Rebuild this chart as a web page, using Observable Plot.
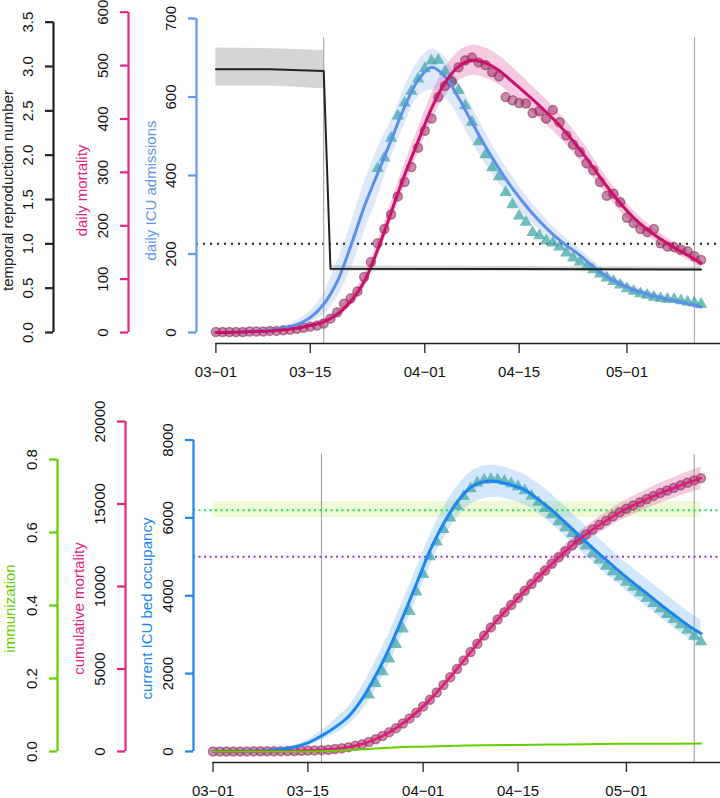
<!DOCTYPE html>
<html><head><meta charset="utf-8">
<script src="https://cdn.jsdelivr.net/npm/d3@7"></script>
<script src="https://cdn.jsdelivr.net/npm/@observablehq/plot@0.6"></script>
<style>
html,body{margin:0;padding:0;background:#fff;}
#chart{width:720px;}
#chart svg{display:block;}
</style></head><body><div id="chart"></div>
<script>
// ---------- data (days since 03-01) ----------
const fitDays = [0,4,8,10,12,14,16,18,20,22,24,26,28,30,32,34,36,38,40,42,44,46,48,50,52,54,56,58,60,62,64,66,68,70,72];

// top panel: daily ICU admissions (model fit + band)
const icuAdmFit = [0,2,6,11,20,38,72,130,220,320,405,490,575,643,676,652,598,535,474,418,367,323,284,250,222,197,168,143,124,109,98,89,81,73,65];
const icuAdmLo  = [0,1,4,7,13,25,45,90,160,255,345,445,530,600,618,598,550,485,430,380,335,295,261,230,205,182,155,132,115,101,91,82,75,67,58];
const icuAdmHi  = [0,3,9,16,30,55,100,180,275,380,470,540,625,690,722,700,640,575,510,450,398,350,308,270,240,212,182,155,134,118,106,97,88,80,73];
// observed daily ICU admissions
const icuAdmObsDays = [24,25,26,27,28,29,30,31,32,33,34,35,36,37,38,39,40,41,42,43,44,45,46,47,48,49,50,51,52,53,54,55,56,57,58,59,60,61,62,63,64,65,66,67,68,69,70,71,72];
const icuAdmObs = [418,445,495,552,585,615,646,672,692,694,665,642,617,578,536,486,453,420,397,357,326,297,281,255,247,234,228,218,203,190,180,168,160,149,139,130,121,112,105,99,95,90,87,85,85,81,78,76,72];

// daily mortality (model fit + band)
const mortFit = [0,1,3,5,8,13,20,34,58,95,155,225,295,358,420,468,498,510,505,491,470,448,425,401,374,343,309,274,242,215,193,175,159,145,130];
const mortLo  = [0,0,2,4,6,10,16,28,49,83,140,207,274,335,395,442,471,482,477,464,444,423,401,378,352,322,290,257,227,202,181,164,149,136,121];
const mortHi  = [0,2,4,7,10,16,25,41,68,108,170,243,316,382,446,495,526,538,533,519,497,473,449,424,396,364,328,291,257,228,205,186,169,154,139];
// observed daily mortality, days 0..72
const mortObs = [1,1,1,1,1,2,2,2,3,3,4,5,7,9,11,13,17,26,38,54,64,77,104,132,167,194,221,255,282,310,346,378,401,441,462,470,497,510,515,506,501,488,480,441,435,430,429,411,415,401,417,394,369,352,338,317,304,282,256,260,244,215,205,194,188,194,167,161,160,155,152,143,136];

// temporal reproduction number
const rDays = [0,8,16,17,72];
const rVals = [2.97,2.97,2.95,0.72,0.71];
const rLo   = [2.78,2.78,2.75,0.69,0.69];
const rHi   = [3.21,3.20,3.18,0.75,0.74];
const rThreshold = 1;

// bottom panel: current ICU bed occupancy
const icuOccFit = [0,5,20,55,115,220,400,620,900,1350,1950,2650,3450,4300,5150,5850,6400,6780,6930,6930,6840,6720,6470,6200,5880,5550,5230,4920,4620,4330,4060,3780,3510,3250,3030];
const icuOccLo  = [0,3,12,30,70,140,280,460,690,1050,1600,2250,3050,3900,4750,5450,6000,6350,6500,6520,6450,6330,6120,5840,5520,5190,4880,4560,4280,3990,3720,3450,3180,2920,2700];
const icuOccHi  = [0,8,30,80,160,300,540,820,1150,1680,2330,3050,3860,4700,5550,6250,6800,7170,7330,7340,7250,7110,6880,6600,6280,5950,5630,5300,4980,4700,4430,4150,3880,3600,3380];
const icuOccObsDays = [23,24,25,26,27,28,29,30,31,32,33,34,35,36,37,38,39,40,41,42,43,44,45,46,47,48,49,50,51,52,53,54,55,56,57,58,59,60,61,62,63,64,65,66,67,68,69,70,71,72];
const icuOccObs = [1450,1750,2050,2380,2750,3150,3600,4100,4550,5000,5380,5700,6000,6300,6550,6750,6900,6970,6990,6980,6940,6880,6800,6700,6560,6400,6240,6080,5900,5750,5600,5450,5280,5080,4920,4760,4620,4480,4350,4220,4080,3940,3800,3660,3520,3400,3260,3120,2960,2820];
const icuCapacity = 5000;

// cumulative mortality
const cumFit = [0,5,14,21,33,53,83,150,265,450,745,1160,1700,2350,3130,4030,5000,6020,7030,8000,8880,9740,10560,11380,12140,12830,13450,13990,14500,14920,15300,15660,15980,16290,16570];
const cumLo  = [0,4,12,18,28,45,71,130,235,405,685,1080,1600,2230,2990,3870,4820,5810,6800,7740,8590,9420,10210,11000,11730,12390,12980,13490,13970,14370,14720,15050,15350,15640,15900];
const cumHi  = [0,6,16,24,38,61,95,170,295,495,805,1240,1800,2470,3270,4190,5180,6230,7260,8260,9170,10060,10910,11760,12550,13270,13920,14490,15030,15470,15880,16270,16610,16940,17240];
const cumObs = [1,2,3,4,5,7,9,11,14,17,21,26,33,42,53,66,83,109,147,201,265,342,446,578,745,939,1160,1415,1697,2007,2353,2731,3132,3573,4035,4505,5002,5512,6027,6533,7034,7522,8002,8443,8878,9308,9737,10148,10563,10964,11381,11775,12144,12496,12834,13151,13455,13737,13993,14253,14497,14712,14917,15111,15299,15493,15660,15821,15981,16136,16288,16431,16567];

// immunization
const immDays = [0,14,16,18,20,22,24,26,28,30,32,36,40,45,50,55,60,65,72];
const immVals = [0,0,0.001,0.002,0.004,0.006,0.008,0.010,0.012,0.013,0.014,0.016,0.017,0.018,0.019,0.020,0.021,0.021,0.022];
const herdThreshold = 0.661, herdLo = 0.641, herdHi = 0.685;
const herdDays = [0,72];

// events (vertical lines)
const eventDays = [16,71];

// axis ticks & labels
const xTickDays = [0,14,31,45,61];
const xTickLabels = ["03\u221201","03\u221215","04\u221201","04\u221215","05\u221201"];
const rTicks = [0,0.5,1,1.5,2,2.5,3,3.5];
const rTickLabels = ["0.0","0.5","1.0","1.5","2.0","2.5","3.0","3.5"];
const mortTicks = [0,100,200,300,400,500,600];
const mortTickLabels = ["0","100","200","300","400","500","600"];
const icuAdmTicks = [0,200,400,600,800];
const icuAdmTickLabels = ["0","200","400","600","700"];
const immTicks = [0,0.2,0.4,0.6,0.8];
const immTickLabels = ["0.0","0.2","0.4","0.6","0.8"];
const cumTicks = [0,5000,10000,15000,20000];
const cumTickLabels = ["0","5000","10000","15000","20000"];
const icuOccTicks = [0,2000,4000,6000,8000];
const icuOccTickLabels = ["0","2000","4000","6000","8000"];

// ---------- helpers ----------
const t0 = Date.UTC(2020, 2, 1);
const day = d => new Date(t0 + d * 864e5);
const pad = 0.04 * (72 - 0);
const xDomain = [day(-pad), day(72 + pad)];
const FONT = "Liberation Sans, Arial, Helvetica, sans-serif";

// secondary-axis factors (values expressed in the panel's primary y units)
const fR = 225.9, fM = 1.36;        // top: R and daily mortality -> ICU-admission units
const fC = 0.4237, fG = 9373;       // bottom: cumulative mortality and immunization -> ICU-occupancy units

function yAxis(ticks, labels, f, color, dx, title, titleDx) {
  const pos = ticks.map(t => t * f);
  const lab = new Map(pos.map((p, i) => [p, labels[i]]));
  return [
    Plot.ruleX([xDomain[0]], {y1: pos[0], y2: pos[pos.length - 1], dx, stroke: color, strokeWidth: 2.2}),
    Plot.axisY(pos, {anchor: "left", dx, tickSize: 8, tickPadding: 13, tickRotate: -90,
      tickFormat: p => lab.get(p), stroke: color, strokeWidth: 2.2, fill: "#111", fontSize: 15, label: null}),
    Plot.text([title], {frameAnchor: "left", textAnchor: "middle", lineAnchor: "middle",
      dx: dx + titleDx, rotate: -90, text: d => d, fill: color, fontSize: 15})
  ];
}
function xAxis(yMin) {
  const ticks = xTickDays.map(day);
  const lab = new Map(ticks.map((t, i) => [+t, xTickLabels[i]]));
  return [
    Plot.ruleY([yMin], {x1: ticks[0], x2: xDomain[1], stroke: "#222", strokeWidth: 1.3}),
    Plot.axisX(ticks, {tickSize: 10, tickPadding: 13, tickFormat: d => lab.get(+d), stroke: "#222", strokeWidth: 1.3, fill: "#111", fontSize: 15, label: null})
  ];
}

// ---------- top panel ----------
const topRows = fitDays.map((d, i) => ({date: day(d),
  adm: icuAdmFit[i], admLo: icuAdmLo[i], admHi: icuAdmHi[i],
  mort: mortFit[i] * fM, mortLo: mortLo[i] * fM, mortHi: mortHi[i] * fM}));
const rRows = rDays.map((d, i) => ({date: day(d), day: d, r: rVals[i] * fR, lo: rLo[i] * fR, hi: rHi[i] * fR}));
const admObsRows = icuAdmObsDays.map((d, i) => ({date: day(d), v: icuAdmObs[i]}));
const mortObsRows = mortObs.map((v, i) => ({date: day(i), v: v * fM}));
const topY = [-28, 751.6];
const curve = "catmull-rom";

const topChart = Plot.plot({
  width: 720, height: 392,
  marginLeft: 196, marginRight: 0, marginTop: 37, marginBottom: 49,
  style: {fontFamily: FONT, fontSize: "15px", background: "#fff"},
  x: {type: "utc", domain: xDomain},
  y: {domain: topY},
  marks: [
    Plot.areaY(rRows.filter(r => r.day <= 16), {x: "date", y1: "lo", y2: "hi", fill: "#d5d5d5"}),
    Plot.areaY(rRows.filter(r => r.day >= 17), {x: "date", y1: "lo", y2: "hi", fill: "#d5d5d5"}),
    Plot.areaY(topRows, {x: "date", y1: "admLo", y2: "admHi", fill: "#6495ed", fillOpacity: 0.22, curve}),
    Plot.areaY(topRows, {x: "date", y1: "mortLo", y2: "mortHi", fill: "#e0418f", fillOpacity: 0.28, curve}),
    Plot.ruleY([rThreshold * fR], {stroke: "#222", strokeWidth: 2, strokeDasharray: "2,5"}),
    Plot.ruleX(eventDays.map(day), {stroke: "#9a9a9a", strokeWidth: 1}),
    Plot.dot(admObsRows, {x: "date", y: "v", symbol: "triangle", r: 4.6, fill: "#4aabab", fillOpacity: 0.78}),
    Plot.dot(mortObsRows, {x: "date", y: "v", r: 4.5, fill: "#9c3167", fillOpacity: 0.55, stroke: "#8a2458", strokeOpacity: 0.55, strokeWidth: 1.5}),
    Plot.line(topRows, {x: "date", y: "adm", stroke: "#5b8fe8", strokeWidth: 3, curve}),
    Plot.line(topRows, {x: "date", y: "mort", stroke: "#c8126a", strokeWidth: 3, curve}),
    Plot.line(rRows, {x: "date", y: "r", stroke: "#222", strokeWidth: 2}),
    ...xAxis(topY[0]),
    ...yAxis(rTicks, rTickLabels, fR, "#222", -143, "temporal reproduction number", -45),
    ...yAxis(mortTicks, mortTickLabels, fM, "#e3257f", -68, "daily mortality", -46),
    ...yAxis(icuAdmTicks, icuAdmTickLabels, 1, "#6495ed", 0, "daily ICU admissions", -45)
  ]
});

// ---------- bottom panel ----------
const botRows = fitDays.map((d, i) => ({date: day(d),
  occ: icuOccFit[i], occLo: icuOccLo[i], occHi: icuOccHi[i],
  cum: cumFit[i] * fC, cumLo: cumLo[i] * fC, cumHi: cumHi[i] * fC}));
const occObsRows = icuOccObsDays.map((d, i) => ({date: day(d), v: icuOccObs[i]}));
const cumObsRows = cumObs.map((v, i) => ({date: day(i), v: v * fC}));
const immRows = immDays.map((d, i) => ({date: day(d), v: immVals[i] * fG}));
const herdRows = herdDays.map(d => ({date: day(d), lo: herdLo * fG, hi: herdHi * fG}));
const botY = [-282.5, 7627];

const bottomChart = Plot.plot({
  width: 720, height: 406,
  marginLeft: 193, marginRight: 0, marginTop: 62, marginBottom: 36,
  style: {fontFamily: FONT, fontSize: "15px", background: "#fff"},
  x: {type: "utc", domain: xDomain},
  y: {domain: botY},
  marks: [
    Plot.areaY(herdRows, {x: "date", y1: "lo", y2: "hi", fill: "#eefad6"}),
    Plot.areaY(botRows, {x: "date", y1: "occLo", y2: "occHi", fill: "#1c86ee", fillOpacity: 0.2, curve}),
    Plot.areaY(botRows, {x: "date", y1: "cumLo", y2: "cumHi", fill: "#e0418f", fillOpacity: 0.28, curve}),
    Plot.ruleX(eventDays.map(day), {stroke: "#9a9a9a", strokeWidth: 1}),
    Plot.ruleY([herdThreshold * fG], {stroke: "#22dd55", strokeWidth: 2, strokeDasharray: "2,3.5"}),
    Plot.ruleY([icuCapacity], {stroke: "#9b30ff", strokeWidth: 2, strokeDasharray: "2,3.5"}),
    Plot.dot(occObsRows, {x: "date", y: "v", symbol: "triangle", r: 4.6, fill: "#4aabab", fillOpacity: 0.78}),
    Plot.dot(cumObsRows, {x: "date", y: "v", r: 4.5, fill: "#9c3167", fillOpacity: 0.55, stroke: "#8a2458", strokeOpacity: 0.55, strokeWidth: 1.5}),
    Plot.line(botRows, {x: "date", y: "occ", stroke: "#1c86ee", strokeWidth: 3, curve}),
    Plot.line(botRows, {x: "date", y: "cum", stroke: "#e01a78", strokeWidth: 2.5, curve}),
    Plot.line(immRows, {x: "date", y: "v", stroke: "#66cd00", strokeWidth: 2, curve}),
    ...xAxis(botY[0]),
    ...yAxis(immTicks, immTickLabels, fG, "#66cd00", -136, "immunization", -47),
    ...yAxis(cumTicks, cumTickLabels, fC, "#e3257f", -68, "cumulative mortality", -46),
    ...yAxis(icuOccTicks, icuOccTickLabels, 1, "#1c86ee", 0, "current ICU bed occupancy", -46)
  ]
});

document.getElementById("chart").append(topChart, bottomChart);
</script></body></html>
